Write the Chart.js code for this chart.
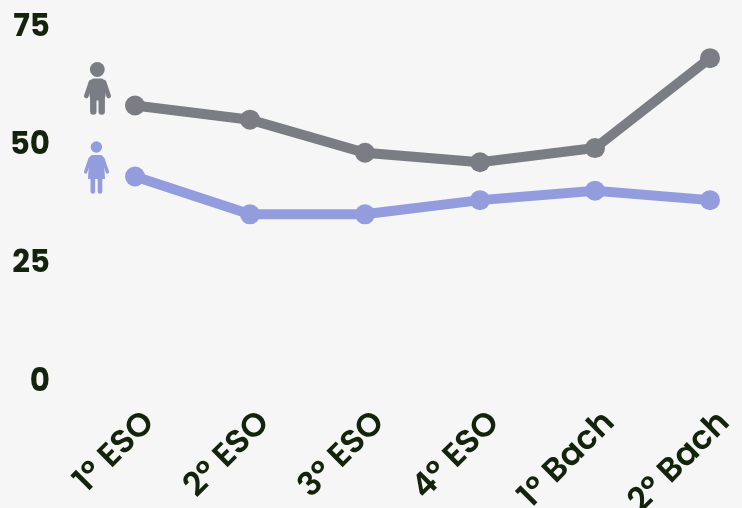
<!DOCTYPE html>
<html>
<head>
<meta charset="utf-8">
<script src="https://cdn.jsdelivr.net/npm/chart.js@4"></script>
<style>
html, body { margin: 0; padding: 0; background: #f6f6f6; }
#wrap { position: relative; width: 742px; height: 508px; }
canvas { display: block; }
</style>
</head>
<body>
<div id="wrap"><canvas id="lineChart" width="742" height="508"></canvas></div>
<script>
const categories = ['1º ESO', '2º ESO', '3º ESO', '4º ESO', '1º Bach', '2º Bach'];
const boys = [58, 55, 48, 46, 49, 68];
const girls = [43, 35, 35, 38, 40, 38];
const yTicks = [0, 25, 50, 75];

const GREY = '#7a7d84';
const BLUE = '#939dde';
const TEXT = '#14240c';

function limb(ctx, x1, y1, x2, y2, w) {
    ctx.lineWidth = w;
    ctx.lineCap = 'round';
    ctx.beginPath();
    ctx.moveTo(x1, y1);
    ctx.lineTo(x2, y2);
    ctx.stroke();
}

// little person icons next to the first point of each line
function drawBoy(ctx, c) {
    ctx.fillStyle = c;
    ctx.strokeStyle = c;
    ctx.beginPath();
    ctx.arc(97.3, 69.5, 7.4, 0, Math.PI * 2);
    ctx.fill();
    ctx.beginPath();
    ctx.roundRect(89.5, 78.5, 16, 22, 5);
    ctx.fill();
    limb(ctx, 91, 82, 86.3, 96, 4.6);
    limb(ctx, 104, 82, 108.7, 96, 4.6);
    limb(ctx, 93.3, 96, 93.3, 111.5, 6.4);
    limb(ctx, 101.7, 96, 101.7, 111.5, 6.4);
}

function drawGirl(ctx, c) {
    ctx.fillStyle = c;
    ctx.strokeStyle = c;
    ctx.beginPath();
    ctx.arc(96.4, 147, 5.7, 0, Math.PI * 2);
    ctx.fill();
    ctx.beginPath();
    ctx.moveTo(92, 155);
    ctx.lineTo(101, 155);
    ctx.quadraticCurveTo(104, 156, 104, 160);
    ctx.lineTo(105, 179);
    ctx.lineTo(88, 179);
    ctx.lineTo(89, 160);
    ctx.quadraticCurveTo(89, 156, 92, 155);
    ctx.closePath();
    ctx.fill();
    limb(ctx, 90, 159, 85.6, 172, 3.4);
    limb(ctx, 103, 159, 107.4, 172, 3.4);
    limb(ctx, 92.8, 178, 92.8, 191.5, 4.6);
    limb(ctx, 100, 178, 100, 191.5, 4.6);
}

const iconPlugin = {
    id: 'icons',
    afterDraw(chart) {
        drawBoy(chart.ctx, GREY);
        drawGirl(chart.ctx, BLUE);
    }
};

new Chart(document.getElementById('lineChart').getContext('2d'), {
    type: 'line',
    data: {
        labels: categories,
        datasets: [
            { label: 'Chicos', data: boys, borderColor: GREY, backgroundColor: GREY, borderWidth: 10, pointBorderWidth: 0, pointRadius: 10, pointHoverRadius: 10, tension: 0 },
            { label: 'Chicas', data: girls, borderColor: BLUE, backgroundColor: BLUE, borderWidth: 10, pointBorderWidth: 0, pointRadius: 10, pointHoverRadius: 10, tension: 0 }
        ]
    },
    options: {
        responsive: false,
        animation: false,
        layout: { padding: { left: 0, right: 32, top: 25, bottom: 0 } },
        plugins: { legend: { display: false }, tooltip: { enabled: false } },
        scales: {
            x: {
                offset: false,
                grid: { display: false },
                border: { display: false },
                afterFit(scale) { scale.height = 128; scale.paddingLeft = 0; scale.paddingRight = 0; },
                ticks: {
                    color: TEXT,
                    font: { family: 'Poppins, Inter, "Open Sans"', size: 33, weight: '600' },
                    maxRotation: 45,
                    minRotation: 45,
                    autoSkip: false,
                    labelOffset: 15,
                    padding: 16
                }
            },
            y: {
                min: 0,
                max: 75,
                afterBuildTicks(scale) { scale.ticks = yTicks.map(v => ({ value: v })); },
                afterFit(scale) { scale.width = 135; scale.paddingTop = 0; scale.paddingBottom = 0; },
                grid: { display: false, drawTicks: false },
                border: { display: false },
                ticks: {
                    color: TEXT,
                    font: { family: 'Poppins, Inter, "Open Sans"', size: 31, weight: '700' },
                    labelOffset: 3,
                    padding: 85
                }
            }
        }
    },
    plugins: [iconPlugin]
});
</script>
</body>
</html>
